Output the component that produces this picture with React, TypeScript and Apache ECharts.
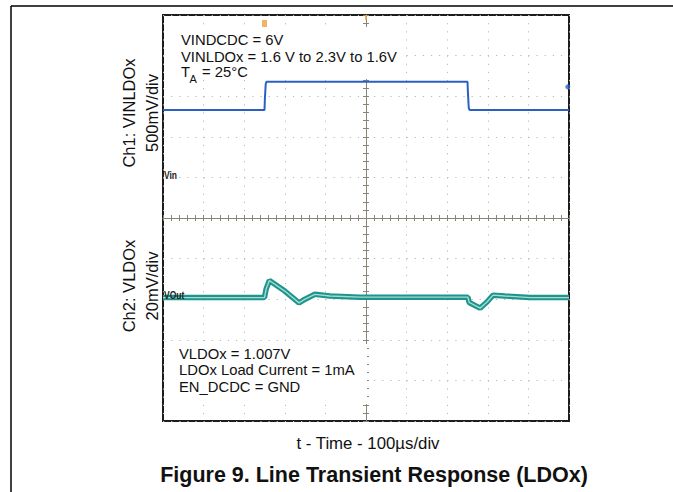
import React, { useEffect, useRef } from "react";
import * as echarts from "echarts";

// Time axis in microseconds (100 µs/div, screen centre = 0), vertical in screen divisions
const ch1Time = [-500, -250, -249, -247, -245, 250, 251, 253, 255, 500];
const ch1Div = [2.66, 2.66, 2.95, 3.3, 3.357, 3.357, 3.1, 2.72, 2.66, 2.66];

const ch2Time = [-500, -250, -246, -238, -200, -165, -150, -126, -89, -15, 100, 251, 254, 281, 298, 313, 342, 404, 500];
const ch2Div = [-1.96, -1.96, -1.75, -1.54, -1.8, -2.09, -2.0, -1.88, -1.92, -1.95, -1.95, -1.95, -2.08, -2.22, -2.07, -1.9, -1.92, -1.96, -1.96];

const topNotes = ["VINDCDC = 6V", "VINLDOx = 1.6 V to 2.3V to 1.6V"];
const bottomNotes = ["VLDOx = 1.007V", "LDOx Load Current = 1mA", "EN_DCDC = GND"];
const ch1Label = ["Ch1: VINLDOx", "500mV/div"];
const ch2Label = ["Ch2: VLDOx", "20mV/div"];
const xLabel = "t - Time - 100\u00b5s/div";
const figTitle = "Figure 9. Line Transient Response (LDOx)";

const FONT = "'Liberation Sans', Arial, Helvetica, sans-serif";

export default function App() {
  const ref = useRef<HTMLDivElement>(null);
  useEffect(() => {
    document.body.style.margin = "0";
    const chart = echarts.init(ref.current!, undefined, { renderer: "svg" });
    const ch1 = ch1Time.map((t, i) => [t, ch1Div[i]]);
    const ch2 = ch2Time.map((t, i) => [t, ch2Div[i]]);
    const centreColor = "#8a8378";
    const dotColor = "#b3b8c0";
    const mkX = (pos: string, idx: number, split: boolean) => ({
      type: "value",
      min: -500,
      max: 500,
      interval: 100,
      position: pos,
      axisLine: { show: true, onZero: true, onZeroAxisIndex: idx, lineStyle: { color: centreColor, width: 1 } },
      axisTick: { show: true, length: 3, lineStyle: { color: centreColor } },
      minorTick: { show: true, splitNumber: 5, length: 3, lineStyle: { color: centreColor } },
      axisLabel: { show: false },
      splitLine: { show: split, lineStyle: { color: dotColor, width: 1, type: [1.2, 6.92] } },
    });
    const mkY = (pos: string, idx: number, split: boolean) => ({
      type: "value",
      min: -5,
      max: 5,
      interval: 1,
      position: pos,
      axisLine: { show: true, onZero: true, onZeroAxisIndex: idx, lineStyle: { color: centreColor, width: 1 } },
      axisTick: { show: true, length: 3, lineStyle: { color: centreColor } },
      minorTick: { show: true, splitNumber: 5, length: 3, lineStyle: { color: centreColor } },
      axisLabel: { show: false },
      splitLine: { show: split, lineStyle: { color: dotColor, width: 1, type: [1.2, 6.92] } },
    });
    const txt = (text: string, x: number, y: number, size: number, extra: any = {}) => ({
      type: "text",
      x,
      y,
      z: 100,
      style: { text, fill: "#111", font: `${extra.weight || "normal"} ${size}px ${FONT}`, align: extra.align || "left", verticalAlign: "middle" },
      rotation: extra.rotation || 0,
    });
    chart.setOption({
      animation: false,
      backgroundColor: "#fff",
      grid: { left: 163, top: 15, width: 406, height: 406, show: true, borderColor: "#1c1c1c", borderWidth: 2, backgroundColor: "#fff" },
      xAxis: [mkX("bottom", 0, true), mkX("top", 1, false)],
      yAxis: [mkY("left", 0, true), mkY("right", 1, false)],
      series: [
        { type: "line", data: ch1, symbol: "none", lineStyle: { color: "#2b5fc4", width: 2 }, z: 5 },
        { type: "line", data: ch2, symbol: "none", lineStyle: { color: "#1f948c", width: 5.5 }, z: 6 },
        { type: "line", data: ch2, symbol: "none", lineStyle: { color: "#9fdcd4", width: 1.4 }, z: 7 },
        { type: "scatter", data: [[497, 3.23]], symbol: "circle", symbolSize: 5, itemStyle: { color: "#2b5fc4" }, z: 8, clip: false },
        { type: "scatter", data: [[-250, 4.79]], symbol: "rect", symbolSize: [5, 7], itemStyle: { color: "#f0a040" }, z: 8 },
        { type: "scatter", data: [[0, 4.94]], symbol: "rect", symbolSize: [2, 5], itemStyle: { color: "#f0a040" }, z: 8 },
      ],
      graphic: [
        { type: "line", shape: { x1: 11, y1: 6, x2: 673, y2: 6 }, style: { stroke: "#000", lineWidth: 1.5 } },
        { type: "line", shape: { x1: 11, y1: 6, x2: 11, y2: 492 }, style: { stroke: "#000", lineWidth: 1.5 } },
        { type: "rect", shape: { x: 165, y: 27, width: 240, height: 52 }, style: { fill: "#fff" }, z: 50 },
        { type: "rect", shape: { x: 165, y: 344, width: 202, height: 60 }, style: { fill: "#fff" }, z: 50 },
        txt(topNotes[0], 181, 40, 14.8),
        txt(topNotes[1], 181, 56.7, 14.8),
        txt("T", 181, 72, 14.8),
        txt("A", 189.5, 79, 11),
        txt(" = 25\u00b0C", 198, 72, 14.8),
        txt(bottomNotes[0], 179, 353.7, 14.8),
        txt(bottomNotes[1], 179, 370.3, 14.8),
        txt(bottomNotes[2], 179, 387, 14.8),
        { type: "text", x: 164, y: 176, z: 100, scaleX: 0.85, style: { text: "Vin", fill: "#222", font: `bold 10px ${FONT}`, verticalAlign: "middle" } },
        { type: "text", x: 164, y: 295.5, z: 100, scaleX: 0.85, style: { text: "VOut", fill: "#222", font: `bold 10px ${FONT}`, verticalAlign: "middle" } },
        txt(ch1Label[0], 128.5, 113, 16.5, { align: "center", rotation: Math.PI / 2 }),
        txt(ch1Label[1], 152, 113, 16.5, { align: "center", rotation: Math.PI / 2 }),
        txt(ch2Label[0], 128.5, 286, 16.5, { align: "center", rotation: Math.PI / 2 }),
        txt(ch2Label[1], 152, 286, 16.5, { align: "center", rotation: Math.PI / 2 }),
        txt(xLabel, 368, 443, 16.8, { align: "center" }),
        txt(figTitle, 374, 475, 21.5, { align: "center", weight: "bold" }),
      ],
    });
    return () => chart.dispose();
  }, []);
  return <div ref={ref} style={{ width: 673, height: 492 }} />;
}
